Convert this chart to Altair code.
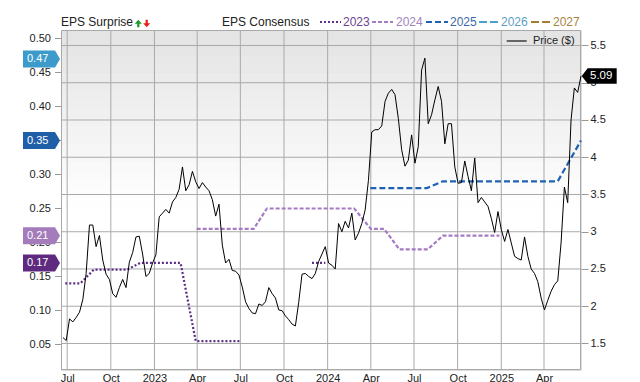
import altair as alt
import pandas as pd

W, H = 520, 340
FONT = "Liberation Sans"

# ---------------- data ----------------
price_start = "2022-06-22"   # weekly closes
price_values = [
    1.58, 1.54, 1.83, 1.79, 1.85, 1.92, 2.09, 2.44, 3.09, 3.09,
    2.80, 2.95, 2.62, 2.43, 2.36, 2.17, 2.12, 2.25, 2.36, 2.25,
    2.59, 2.72, 2.93, 2.94, 2.70, 2.40, 2.44, 2.58, 2.69, 3.20,
    3.25, 3.30, 3.25, 3.40, 3.46, 3.57, 3.87, 3.55, 3.63, 3.81,
    3.67, 3.58, 3.66, 3.60, 3.55, 3.43, 3.21, 3.37, 2.82, 2.58,
    2.63, 2.48, 2.47, 2.42, 2.26, 2.06, 1.97, 1.91, 1.90, 2.03,
    2.01, 2.06, 2.25, 2.17, 2.11, 1.95, 1.94, 1.87, 1.82, 1.76,
    1.735, 2.05, 2.43, 2.44, 2.40, 2.37, 2.44, 2.60, 2.70, 2.80,
    2.58, 2.55, 2.50, 3.11, 3.00, 3.14, 3.05, 3.25, 2.89, 2.98,
    3.11, 3.29, 3.69, 4.34, 4.37, 4.37, 4.42, 4.75, 4.86, 4.91,
    4.84, 4.52, 4.10, 3.88, 3.96, 4.30, 3.92, 4.14, 5.17, 5.33,
    4.45, 4.57, 4.77, 4.95, 4.75, 4.18, 4.45, 4.45, 3.87, 3.65,
    3.66, 3.95, 3.74, 3.55, 3.99, 3.39, 3.46, 3.40, 3.34, 3.18,
    2.99, 3.27, 3.03, 2.87, 3.03, 2.85, 2.67, 2.64, 2.62, 2.93,
    2.67, 2.50, 2.44, 2.33, 2.11, 1.95, 2.08, 2.20, 2.29, 2.34,
    2.85, 3.60, 3.39, 4.50, 4.93, 4.87, 5.09,
]

cons_2023_dates = ["2022-06-27", "2022-07-29", "2022-08-26", "2022-11-04", "2022-12-02",
                   "2023-02-25", "2023-03-29", "2023-06-29", "2023-11-29", "2023-12-27"]
cons_2023_vals = [0.14, 0.14, 0.16, 0.16, 0.17, 0.17, 0.055, 0.055, 0.17, 0.17]
cons_2023_seg = [0, 0, 0, 0, 0, 0, 0, 0, 1, 1]

cons_2024_dates = ["2023-03-31", "2023-07-29", "2023-08-26", "2024-02-26", "2024-04-01",
                   "2024-04-29", "2024-05-31", "2024-07-30", "2024-08-31", "2024-12-28"]
cons_2024_vals = [0.22, 0.22, 0.25, 0.25, 0.22, 0.22, 0.19, 0.19, 0.21, 0.21]

cons_2025_dates = ["2024-03-31", "2024-07-28", "2024-08-31", "2025-04-30", "2025-06-18"]
cons_2025_vals = [0.28, 0.28, 0.29, 0.29, 0.35]

badge_years = ["2026", "2025", "2024", "2023"]
badge_vals = [0.47, 0.35, 0.21, 0.17]

legend_years = ["2023", "2024", "2025", "2026", "2027"]

quarter_ticks = ["2022-07-01", "2022-10-01", "2023-01-01", "2023-04-01", "2023-07-01",
                 "2023-10-01", "2024-01-01", "2024-04-01", "2024-07-01", "2024-10-01",
                 "2025-01-01", "2025-04-01"]
eps_ticks = [0.05, 0.10, 0.15, 0.20, 0.25, 0.30, 0.35, 0.40, 0.45, 0.50]
price_ticks = [1.5, 2.0, 2.5, 3.0, 3.5, 4.0, 4.5, 5.0, 5.5]

# axis ranges (EPS on the left, price on the right)
EPS_LO, EPS_HI = 0.0125, 0.5125
PRICE_LO, PRICE_HI = 1.144, 5.708

# ---------------- styles ----------------
year_colors = ["#5c2e86", "#a57cc4", "#1f62b4", "#4aa0d0", "#a67c35"]
year_text_colors = ["#6b4592", "#a184bd", "#3a6aa8", "#5a9fc8", "#a8843f"]
year_dash = [[2, 2], [4, 2], [6, 3], [8, 3], [8, 3]]
badge_colors = ["#3d9bcc", "#1f5fa8", "#a47cbc", "#5e2a80"]
GRID = "#a9a9a9"

# ---------------- frames ----------------
price_df = pd.DataFrame({
    "date": pd.date_range(price_start, periods=len(price_values), freq="7D"),
    "price": price_values,
})
c23 = pd.DataFrame({"date": pd.to_datetime(cons_2023_dates), "eps": cons_2023_vals, "seg": cons_2023_seg})
c24 = pd.DataFrame({"date": pd.to_datetime(cons_2024_dates), "eps": cons_2024_vals})
c25 = pd.DataFrame({"date": pd.to_datetime(cons_2025_dates), "eps": cons_2025_vals})
badges_df = pd.DataFrame({"year": badge_years, "eps": badge_vals})
eps_tick_df = pd.DataFrame({"eps": eps_ticks})
vgrid_df = pd.DataFrame({"date": pd.to_datetime(quarter_ticks)})
hgrid_df = pd.DataFrame({"price": price_ticks})
last_df = pd.DataFrame({"price": [price_values[-1]]})
one = pd.DataFrame({"a": [0]})

# EPS values are placed on the shared vertical scale through a linear map of the left axis range
K = (PRICE_HI - PRICE_LO) / (EPS_HI - EPS_LO)
EPS_EXPR = f"{PRICE_LO} + (datum.eps - {EPS_LO}) * {K}"

x_domain = [alt.DateTime(year=2022, month=6, date=18), alt.DateTime(year=2025, month=6, date=18)]
x_vals = [alt.DateTime(year=int(s[:4]), month=int(s[5:7]), date=1) for s in quarter_ticks]
x_axis = alt.Axis(values=x_vals, grid=False, ticks=False, domain=False, title=None,
                  labelExpr="month(datum.value) == 0 ? timeFormat(datum.value, '%Y') : timeFormat(datum.value, '%b')",
                  labelFont=FONT, labelFontSize=11, labelColor="#222", labelPadding=2,
                  labelAngle=0, labelFlush=False)
y_axis = alt.Axis(orient="right", values=price_ticks, format="~g", grid=False,
                  domain=False, tickSize=7, tickColor="#999",
                  labelFont=FONT, labelFontSize=11, labelColor="#222", labelPadding=2, title=None)
y_scale = alt.Scale(domain=[PRICE_LO, PRICE_HI], nice=False, zero=False)


def X(field):
    return alt.X(field, type="temporal", scale=alt.Scale(domain=x_domain), axis=x_axis, title=None)


def Y(field):
    return alt.Y(field, type="quantitative", scale=y_scale, axis=y_axis, title=None)


# background shading: solid bands fading from light grey at the top to white
N_BANDS = 20
FADE = 0.52 * H
bands = []
for i in range(N_BANDS):
    t = (i + 0.5) / N_BANDS
    g = int(round(227 + (255 - 227) * t))
    bands.append(
        alt.Chart(one).mark_rect(color=f"rgb({g},{g},{g})", strokeWidth=0).encode(
            x=alt.value(0.5), x2=alt.value(W - 0.5),
            y=alt.value(max(0.5, FADE * i / N_BANDS)), y2=alt.value(FADE * (i + 1) / N_BANDS + 0.3))
    )

# grid lines, placed through the scales
vgrid = alt.Chart(vgrid_df).mark_rule(color=GRID, strokeWidth=1).encode(
    x=X("date"), y=alt.value(0), y2=alt.value(H))
hgrid = alt.Chart(hgrid_df).mark_rule(color=GRID, strokeWidth=1).encode(
    y=Y("price"), x=alt.value(0), x2=alt.value(W))
frame = [
    alt.Chart(one).mark_rule(color=GRID, strokeWidth=1).encode(
        x=alt.value(0.5), x2=alt.value(W - 0.5), y=alt.value(0.5)),
    alt.Chart(one).mark_rule(color=GRID, strokeWidth=1).encode(
        x=alt.value(0.5), x2=alt.value(W - 0.5), y=alt.value(H - 0.5)),
    alt.Chart(one).mark_rule(color=GRID, strokeWidth=1).encode(
        x=alt.value(0.5), y=alt.value(0.5), y2=alt.value(H - 0.5)),
    alt.Chart(one).mark_rule(color=GRID, strokeWidth=1).encode(
        x=alt.value(W - 0.5), y=alt.value(0.5), y2=alt.value(H - 0.5)),
]

# manual left (EPS) axis
eps_tick_marks = alt.Chart(eps_tick_df).transform_calculate(yv=EPS_EXPR).mark_rule(
    color="#999", strokeWidth=1).encode(x=alt.value(-6), x2=alt.value(0), y=Y("yv"))
eps_tick_labels = alt.Chart(eps_tick_df).transform_calculate(yv=EPS_EXPR).mark_text(
    align="right", baseline="middle", font=FONT, fontSize=11, color="#222").encode(
    x=alt.value(-10), y=Y("yv"), text=alt.Text("eps:Q", format=".2f"))

line23 = alt.Chart(c23).transform_calculate(yv=EPS_EXPR).mark_line(
    color=year_colors[0], strokeDash=year_dash[0], strokeWidth=2.2).encode(
    x=X("date"), y=Y("yv"), detail="seg:N")
line24 = alt.Chart(c24).transform_calculate(yv=EPS_EXPR).mark_line(
    color=year_colors[1], strokeDash=year_dash[1], strokeWidth=2.2).encode(x=X("date"), y=Y("yv"))
line25 = alt.Chart(c25).transform_calculate(yv=EPS_EXPR).mark_line(
    color=year_colors[2], strokeDash=year_dash[2], strokeWidth=2.2).encode(x=X("date"), y=Y("yv"))

price_line = alt.Chart(price_df).mark_line(color="#000000", strokeWidth=1).encode(
    x=X("date"), y=Y("price"))

# left badges
badge_path = "M -1 -0.46 L 0.73 -0.46 L 1 0 L 0.73 0.46 L -1 0.46 Z"
badges = alt.Chart(badges_df).transform_calculate(yv=EPS_EXPR).mark_point(
    shape=badge_path, size=37 * 37, filled=True, opacity=1, strokeWidth=0).encode(
    x=alt.value(-19.5), y=Y("yv"),
    color=alt.Color("year:N", scale=alt.Scale(domain=badge_years, range=badge_colors), legend=None))
badge_text = alt.Chart(badges_df).transform_calculate(yv=EPS_EXPR).mark_text(
    align="left", baseline="middle", color="white", font=FONT, fontSize=11).encode(
    x=alt.value(-34), y=Y("yv"), text=alt.Text("eps:Q", format=".2f"))

# price badge
pbadge_path = "M -1 0 L -0.66 -0.44 L 1 -0.44 L 1 0.44 L -0.66 0.44 Z"
pbadge = alt.Chart(last_df).mark_point(shape=pbadge_path, size=35 * 35, filled=True, opacity=1,
                                       color="#000000", strokeWidth=0).encode(
    x=alt.value(538.2), y=Y("price"))
pbadge_text = alt.Chart(last_df).mark_text(align="left", baseline="middle", color="white",
                                           font=FONT, fontSize=11.5).encode(
    x=alt.value(529), y=Y("price"), text=alt.Text("price:Q", format=".2f"))


def label(txt, x, y, color="#222", size=12):
    return alt.Chart(one).mark_text(align="left", baseline="middle", font=FONT, fontSize=size,
                                    color=color).encode(
        x=alt.value(x), y=alt.value(y), text=alt.value(txt))


def sample(x0, x1, y, color, dash, width=2.2):
    return alt.Chart(one).mark_rule(color=color, strokeDash=dash, strokeWidth=width).encode(
        x=alt.value(x0), x2=alt.value(x1), y=alt.value(y))


up_path = "M 0 -1 L 0.95 0.05 L 0.3 0.05 L 0.3 1 L -0.3 1 L -0.3 0.05 L -0.95 0.05 Z"
down_path = "M 0 1 L 0.95 -0.05 L 0.3 -0.05 L 0.3 -1 L -0.3 -1 L -0.3 -0.05 L -0.95 -0.05 Z"
up_arrow = alt.Chart(one).mark_point(shape=up_path, size=56, filled=True, opacity=1,
                                     color="#1a9a2a", strokeWidth=0).encode(
    x=alt.value(77.3), y=alt.value(-6.5))
down_arrow = alt.Chart(one).mark_point(shape=down_path, size=56, filled=True, opacity=1,
                                       color="#e8201a", strokeWidth=0).encode(
    x=alt.value(85.7), y=alt.value(-6.5))

leg_y = -8
legend_layers = [
    label("EPS Surprise", 0, leg_y), up_arrow, down_arrow,
    label("EPS Consensus", 161, leg_y),
]
leg_line_x = [(259, 280), (311, 332), (365, 387), (418, 437), (470, 490)]
leg_text_x = [282, 335, 389, 440, 492]
for i, yr in enumerate(legend_years):
    legend_layers.append(sample(leg_line_x[i][0], leg_line_x[i][1], leg_y, year_colors[i], year_dash[i]))
    legend_layers.append(label(yr, leg_text_x[i], leg_y, color=year_text_colors[i]))

legend_layers.append(sample(445.7, 465.7, 11, "#666666", [1, 0], width=2))
legend_layers.append(label("Price ($)", 472, 11, color="#222", size=11))

chart = alt.layer(
    *bands, vgrid, hgrid, *frame, eps_tick_marks, eps_tick_labels, line23, line24, line25,
    price_line, badges, badge_text, pbadge, pbadge_text, *legend_layers
).properties(
    width=W, height=H,
    autosize=alt.AutoSizeParams(type="none"),
    padding={"left": 53, "top": 22, "right": 45, "bottom": 12},
).configure_view(stroke="#a9a9a9", strokeWidth=1).configure(background="white")

chart.save("out.html", embed_options={"renderer": "svg", "actions": False})
